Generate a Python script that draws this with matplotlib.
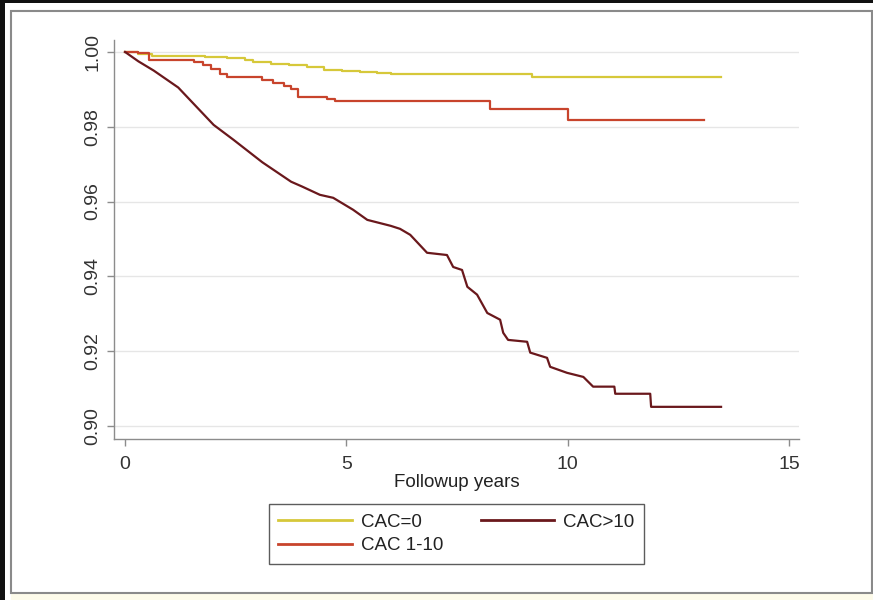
import matplotlib
matplotlib.use("Agg")
import matplotlib.pyplot as plt
from matplotlib.patches import Rectangle
from matplotlib.ticker import FormatStrFormatter

plt.rcParams['font.family'] = ['Liberation Sans', 'DejaVu Sans']

# ---- data ----
labels = ["CAC=0", "CAC 1-10", "CAC>10"]

t_cac0 = [0, 0.3, 0.6, 1.2, 1.8, 2.3, 2.7, 2.9, 3.3, 3.7, 4.1, 4.5, 4.9, 5.3, 5.7, 6.0, 9.2, 13.45]
s_cac0 = [1.0, 0.9994, 0.9990, 0.9988, 0.9986, 0.9983, 0.9978, 0.9972, 0.9968, 0.9964, 0.9959, 0.9953, 0.9949, 0.9946, 0.9943, 0.9941, 0.9934, 0.9934]

t_cac1 = [0, 0.3, 0.55, 1.55, 1.75, 1.95, 2.15, 2.3, 3.1, 3.35, 3.6, 3.75, 3.9, 4.55, 4.75, 8.25, 10.0, 13.07]
s_cac1 = [1.0, 0.9997, 0.9979, 0.9972, 0.9966, 0.9955, 0.9940, 0.9933, 0.9925, 0.9916, 0.9908, 0.9900, 0.9880, 0.9873, 0.9868, 0.9847, 0.9818, 0.9818]

t_cac10 = [0, 0.3, 0.65, 1.2, 1.6, 2.0, 2.45, 3.1, 3.75, 4.0, 4.4, 4.7, 5.15, 5.47, 6.0, 6.21, 6.44, 6.82,
           7.27, 7.41, 7.61, 7.73, 7.95, 8.18, 8.47, 8.54, 8.65, 9.08, 9.15, 9.53, 9.60, 9.98, 10.35, 10.57,
           11.05, 11.07, 11.86, 11.88, 13.46]
s_cac10 = [1.0, 0.9975, 0.9950, 0.9905, 0.9855, 0.9805, 0.9765, 0.9705, 0.9653, 0.9640, 0.9618, 0.9610, 0.9578, 0.9551, 0.9535, 0.9527, 0.9511, 0.9463,
           0.9457, 0.9425, 0.9417, 0.9372, 0.9351, 0.9302, 0.9284, 0.9249, 0.9230, 0.9225, 0.9196, 0.9182, 0.9158, 0.9142, 0.9131, 0.9105,
           0.9105, 0.9086, 0.9086, 0.9051, 0.9051]

x_ticks = [0, 5, 10, 15]
y_ticks = [0.90, 0.92, 0.94, 0.96, 0.98, 1.00]

colors = ["#D6C83A", "#C8442C", "#6A181C"]

W, H = 873, 600
fig = plt.figure(figsize=(W / 100, H / 100), dpi=100)
fig.patch.set_facecolor("white")

# outer frame decoration
def px_rect(x0, y0, x1, y1, **kw):
    fig.patches.append(Rectangle((x0 / W, 1 - y1 / H), (x1 - x0) / W, (y1 - y0) / H,
                                 transform=fig.transFigure, figure=fig, **kw))

px_rect(0, 0, 5, 600, facecolor="#111111", edgecolor="none")
px_rect(0, 0, 873, 3, facecolor="#111111", edgecolor="none")
px_rect(11, 593, 873, 600, facecolor="#FDFBEA", edgecolor="none")
px_rect(11, 11, 872, 593, facecolor="none", edgecolor="#8A8A8A", linewidth=1.5)

ax = fig.add_axes([114 / W, 1 - 439 / H, (799 - 114) / W, (439 - 40) / H])
ax.set_facecolor("white")

ax.plot(t_cac0, s_cac0, drawstyle="steps-post", color=colors[0], lw=1.6, label=labels[0])
ax.plot(t_cac1, s_cac1, drawstyle="steps-post", color=colors[1], lw=1.6, label=labels[1])
ax.plot(t_cac10, s_cac10, color=colors[2], lw=1.6, label=labels[2])

ax.set_xlim(-0.25, 15.22)
ax.set_ylim(0.8965, 1.0032)
ax.set_xticks(x_ticks)
ax.set_yticks(y_ticks)
ax.yaxis.set_major_formatter(FormatStrFormatter("%.2f"))
ax.grid(axis="y", color="#E6E6E6", lw=1.0)
ax.set_axisbelow(True)
for s in ["top", "right"]:
    ax.spines[s].set_visible(False)
for s in ["left", "bottom"]:
    ax.spines[s].set_color("#8C8C8C")
    ax.spines[s].set_linewidth(1.0)
ax.tick_params(axis="both", colors="#8C8C8C", length=5, width=1.0, labelsize=14, labelcolor="#333333")
ax.tick_params(axis="x", pad=7)
ax.tick_params(axis="y", pad=4)
for lab in ax.get_yticklabels():
    lab.set_rotation(90)
    lab.set_va("center")
ax.set_xlabel("Followup years", fontsize=13.5, color="#222222", labelpad=1)

handles, labs = ax.get_legend_handles_labels()
leg = fig.legend([handles[0], handles[1], handles[2]], [labs[0], labs[1], labs[2]],
                 ncol=2, loc="center", bbox_to_anchor=(456.5 / W, 1 - 534 / H),
                 fontsize=13.5, frameon=True, fancybox=False, handlelength=3.9,
                 handletextpad=0.5, columnspacing=2.0, labelspacing=0.35, borderpad=0.5)
leg.get_frame().set_edgecolor("#333333")
leg.get_frame().set_linewidth(1.0)
for line in leg.get_lines():
    line.set_linewidth(2.0)
for txt in leg.get_texts():
    txt.set_color("#222222")

fig.savefig("out.png", dpi=100, facecolor=fig.get_facecolor())
